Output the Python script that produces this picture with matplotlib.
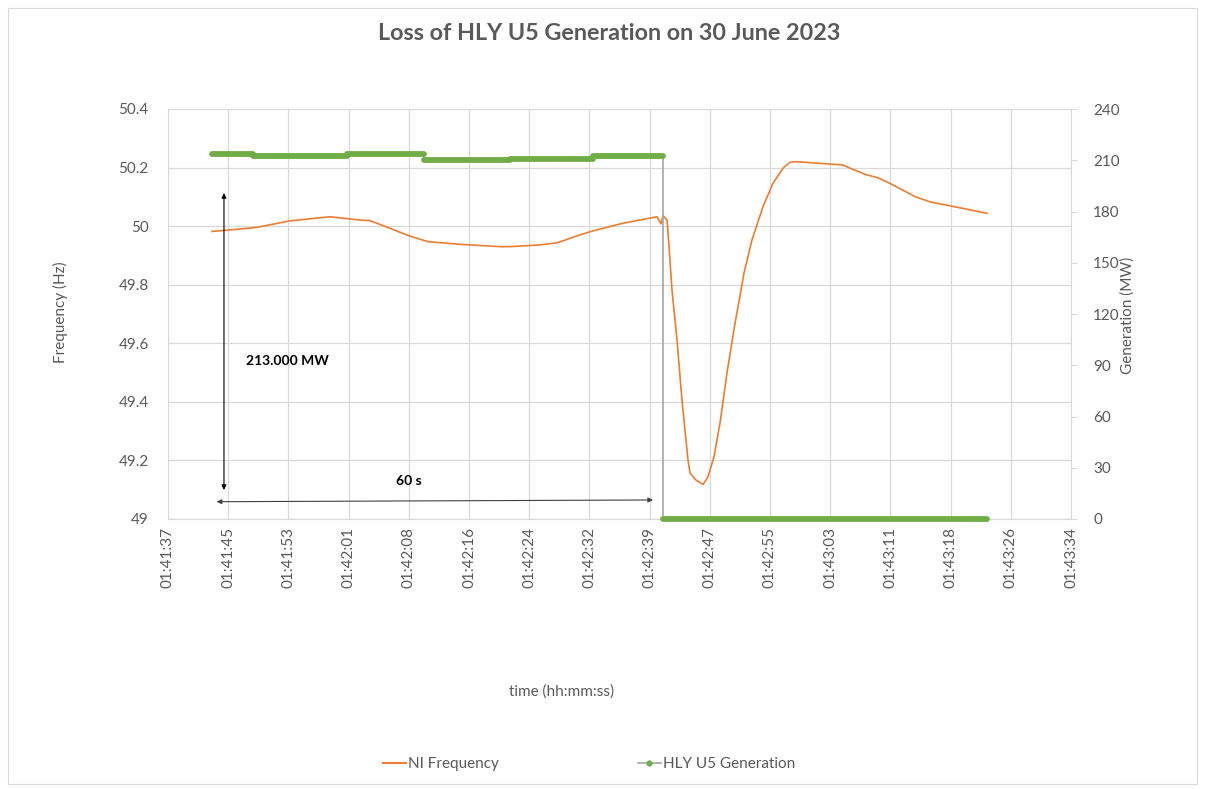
import matplotlib
matplotlib.use("Agg")
import matplotlib.pyplot as plt
from matplotlib.lines import Line2D
from matplotlib.ticker import FuncFormatter, FixedLocator
from matplotlib.patches import Rectangle

plt.rcParams['font.family'] = ['Lato', 'DejaVu Sans']

# ---------------- data ----------------
# time in seconds after 01:41:00
freq_t = [42.92, 46.54, 48.74, 53.00, 58.16, 62.04, 63.33, 68.50, 70.82, 74.96,
          80.12, 81.41, 85.29, 87.48, 90.46, 91.75, 96.01, 100.40, 100.92, 101.18,
          101.70, 101.96, 102.34, 102.99, 103.63, 104.41, 104.67, 105.44, 106.35, 106.99,
          107.77, 108.54, 109.44, 110.48, 111.64, 112.67, 114.09, 115.38, 116.68, 117.58,
          118.48, 122.75, 124.43, 125.33, 127.27, 128.95, 130.50, 133.73, 135.66, 138.89,
          143.03]
freq_hz = [49.982, 49.990, 49.996, 50.018, 50.032, 50.021, 50.019, 49.966, 49.947, 49.938,
           49.930, 49.930, 49.936, 49.943, 49.970, 49.981, 50.010, 50.032, 50.008, 50.036,
           50.021, 49.930, 49.782, 49.611, 49.406, 49.201, 49.157, 49.133, 49.118, 49.144,
           49.213, 49.327, 49.498, 49.668, 49.839, 49.953, 50.066, 50.146, 50.198, 50.218,
           50.220, 50.212, 50.209, 50.198, 50.177, 50.165, 50.146, 50.101, 50.083, 50.066,
           50.044]

gen_start = [42.92, 48.22, 60.36, 70.30, 81.40, 92.10, 101.20]
gen_end = [48.22, 60.36, 70.30, 81.40, 92.10, 101.20, 143.00]
gen_mw = [213.7, 212.5, 213.4, 210.4, 210.8, 212.5, 0.0]

x_min = 37.24
x_unit = 7.776
n_ticks = 16
freq_ticks = [49.0, 49.2, 49.4, 49.6, 49.8, 50.0, 50.2, 50.4]
gen_ticks = [0, 30, 60, 90, 120, 150, 180, 210, 240]

title = "Loss of HLY U5 Generation on 30 June 2023"
base_seconds = 1 * 3600 + 41 * 60

# ---------------- figure ----------------
W, H = 1206, 789
fig = plt.figure(figsize=(W / 100, H / 100), dpi=100)
fig.patch.set_facecolor('white')

# chart border
fig.patches.append(Rectangle((8 / W, 1 - 784 / H), (1197 - 8) / W, (784 - 8) / H,
                             transform=fig.transFigure, fill=False,
                             edgecolor='#d9d9d9', lw=0.8))

left, right, top, bottom = 168, 1071, 109, 519
ax = fig.add_axes([left / W, 1 - bottom / H, (right - left) / W, (bottom - top) / H])
ax2 = ax.twinx()

txt = '#595959'
grid_c = '#d9d9d9'

# frequency
ax.plot(freq_t, freq_hz, color='#ED7D31', lw=1.2, zorder=3)
ax.set_ylim(49.0, 50.4)
ax.yaxis.set_major_locator(FixedLocator(freq_ticks))
ax.yaxis.set_major_formatter(FuncFormatter(lambda v, p: f"{v:.1f}".rstrip('0').rstrip('.')))

xt = [x_min + i * x_unit for i in range(n_ticks)]
ax.set_xlim(xt[0], xt[-1])
ax.xaxis.set_major_locator(FixedLocator(xt))


def fmt_time(v, p):
    s = int(round(base_seconds + v))
    return f"{s // 3600:02d}:{(s % 3600) // 60:02d}:{s % 60:02d}"


ax.xaxis.set_major_formatter(FuncFormatter(fmt_time))
ax.grid(True, color=grid_c, lw=0.9)
ax.set_axisbelow(True)
ax.tick_params(axis='x', rotation=90, length=0, pad=6, labelsize=11, colors=txt)
ax.tick_params(axis='y', length=0, pad=14, labelsize=11, colors=txt)
for s in ['top', 'right']:
    ax.spines[s].set_visible(False)
ax.spines['left'].set_color(grid_c)
ax.spines['bottom'].set_color(grid_c)

# generation
step_x = gen_start + [gen_end[-1]]
step_y = gen_mw + [gen_mw[-1]]
ax2.plot(step_x, step_y, drawstyle='steps-post', color='#A5A5A5', lw=1.2, zorder=2,
         clip_on=False)
for xs, xe, v in zip(gen_start, gen_end, gen_mw):
    ax2.plot([xs, xe], [v, v], color='#70AD47', lw=4.2, solid_capstyle='round',
             zorder=3, clip_on=False)
ax2.set_ylim(0, 240)
ax2.yaxis.set_major_locator(FixedLocator(gen_ticks))
ax2.tick_params(axis='y', length=4, color=grid_c, pad=12, labelsize=11, colors=txt)
ax2.tick_params(axis='y', color=grid_c)
for s in ['top', 'left', 'bottom']:
    ax2.spines[s].set_visible(False)
ax2.spines['right'].set_color(grid_c)

# annotations
ax.annotate('', xy=(44.47, 50.113), xytext=(44.47, 49.099),
            arrowprops=dict(arrowstyle='<|-|>', color='black', lw=0.8,
                            mutation_scale=7, shrinkA=0, shrinkB=0), zorder=4)
ax.annotate('', xy=(99.89, 49.065), xytext=(43.53, 49.059),
            arrowprops=dict(arrowstyle='<|-|>', color='#404040', lw=0.8,
                            mutation_scale=7, shrinkA=0, shrinkB=0), zorder=4)
ax.text(52.61, 49.540, "213.000 MW", ha='center', va='center', fontsize=10,
        fontweight='bold', color='black', zorder=5)
ax.text(68.37, 49.130, "60 s", ha='center', va='center', fontsize=10,
        fontweight='bold', color='black', zorder=5)

# labels
fig.text(609 / W, 1 - 33 / H, title, ha='center', va='center', fontsize=16.8,
         fontweight='bold', color=txt)
fig.text(60 / W, 1 - 312 / H, "Frequency (Hz)", rotation=90, ha='center', va='center',
         fontsize=11, color=txt)
fig.text(1128 / W, 1 - 315 / H, "Generation (MW)", rotation=90, ha='center', va='center',
         fontsize=11, color=txt)
fig.text(562 / W, 1 - 692 / H, "time (hh:mm:ss)", ha='center', va='center',
         fontsize=11, color=txt)

handles = [Line2D([], [], color='#ED7D31', lw=1.5),
           Line2D([], [], color='#A5A5A5', lw=1.2, marker='o', markersize=3.5,
                  markerfacecolor='#70AD47', markeredgecolor='#70AD47')]
leg = fig.legend(handles, ["NI Frequency", "HLY U5 Generation"], loc='center',
                 bbox_to_anchor=(589 / W, 1 - 764 / H), ncol=2, frameon=False,
                 fontsize=11, handlelength=1.5, handletextpad=0.15, columnspacing=9.1)
for t in leg.get_texts():
    t.set_color(txt)

fig.savefig("out.png", dpi=100)
